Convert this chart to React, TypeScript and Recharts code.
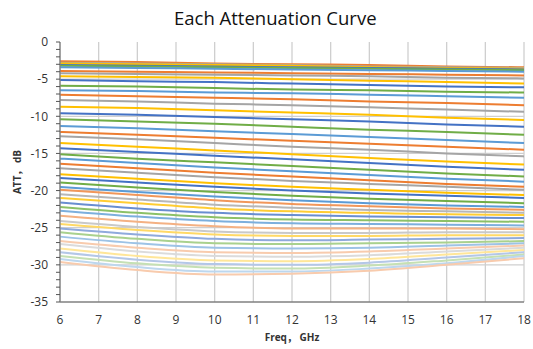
import React from 'react';
import { LineChart, Line, XAxis, YAxis, CartesianGrid, Label } from 'recharts';

const freqs = [6, 8, 10, 12, 14, 16, 18];
const xTicks = [6, 7, 8, 9, 10, 11, 12, 13, 14, 15, 16, 17, 18];
const xMinorTicks = [6, 6.5, 7, 7.5, 8, 8.5, 9, 9.5, 10, 10.5, 11, 11.5, 12, 12.5, 13, 13.5, 14, 14.5, 15, 15.5, 16, 16.5, 17, 17.5, 18];
const yTicks = [-35, -34, -33, -32, -31, -30, -29, -28, -27, -26, -25, -24, -23, -22, -21, -20, -19, -18, -17, -16, -15, -14, -13, -12, -11, -10, -9, -8, -7, -6, -5, -4, -3, -2, -1, 0];
const yGrid = [-30, -25, -20, -15, -10, -5];

const att00 = [-2.6, -2.7, -2.9, -3.0, -3.1, -3.3, -3.4];
const att01 = [-2.8, -2.9, -3.0, -3.1, -3.3, -3.4, -3.5];
const att02 = [-2.9, -3.0, -3.1, -3.2, -3.4, -3.5, -3.6];
const att03 = [-3.1, -3.2, -3.3, -3.4, -3.5, -3.6, -3.7];
const att04 = [-3.2, -3.3, -3.4, -3.5, -3.6, -3.7, -3.8];
const att05 = [-3.4, -3.5, -3.6, -3.7, -3.8, -3.9, -4.0];
const att06 = [-3.9, -4.0, -4.1, -4.2, -4.3, -4.4, -4.5];
const att07 = [-4.2, -4.3, -4.4, -4.5, -4.6, -4.8, -4.9];
const att08 = [-4.6, -4.7, -4.8, -5.0, -5.2, -5.4, -5.6];
const att09 = [-5.1, -5.3, -5.4, -5.6, -5.8, -6.0, -6.1];
const att10 = [-5.9, -6.0, -6.2, -6.4, -6.5, -6.7, -6.8];
const att11 = [-6.5, -6.6, -6.8, -6.9, -7.1, -7.3, -7.5];
const att12 = [-7.1, -7.3, -7.5, -7.7, -8.0, -8.2, -8.5];
const att13 = [-7.8, -8.0, -8.3, -8.5, -8.8, -9.1, -9.4];
const att14 = [-8.7, -8.9, -9.2, -9.5, -9.8, -10.2, -10.5];
const att15 = [-9.6, -9.8, -10.1, -10.4, -10.7, -11.1, -11.4];
const att16 = [-10.4, -10.7, -11.0, -11.4, -11.8, -12.1, -12.5];
const att17 = [-11.3, -11.6, -12.0, -12.4, -12.8, -13.2, -13.6];
const att18 = [-12.1, -12.5, -12.9, -13.3, -13.7, -14.1, -14.5];
const att19 = [-12.7, -13.1, -13.6, -14.1, -14.5, -15.0, -15.4];
const att20 = [-13.6, -14.1, -14.6, -15.1, -15.6, -16.1, -16.5];
const att21 = [-14.3, -14.8, -15.3, -15.8, -16.3, -16.8, -17.2];
const att22 = [-15.1, -15.7, -16.2, -16.7, -17.2, -17.7, -18.1];
const att23 = [-15.7, -16.3, -16.9, -17.4, -17.9, -18.4, -18.8];
const att24 = [-16.4, -17.0, -17.6, -18.1, -18.6, -19.1, -19.5];
const att25 = [-17.0, -17.6, -18.2, -18.7, -19.1, -19.5, -19.9];
const att26 = [-17.8, -18.4, -19.0, -19.5, -19.9, -20.3, -20.6];
const att27 = [-18.3, -18.9, -19.5, -20.0, -20.4, -20.7, -21.0];
const att28 = [-18.9, -19.6, -20.2, -20.7, -21.1, -21.4, -21.7];
const att29 = [-19.5, -20.2, -20.8, -21.3, -21.7, -22.0, -22.2];
const att30 = [-19.9, -20.6, -21.3, -21.8, -22.1, -22.4, -22.6];
const att31 = [-20.5, -21.2, -21.9, -22.3, -22.6, -22.8, -23.0];
const att32 = [-21.0, -21.7, -22.4, -22.8, -23.0, -23.2, -23.3];
const att33 = [-21.6, -22.4, -23.0, -23.3, -23.5, -23.6, -23.7];
const att34 = [-22.2, -23.0, -23.6, -23.9, -24.0, -24.1, -24.2];
const att35 = [-22.7, -23.5, -24.1, -24.4, -24.5, -24.6, -24.7];
const att36 = [-23.4, -24.2, -24.8, -25.1, -25.1, -25.1, -25.2];
const att37 = [-24.1, -24.9, -25.5, -25.7, -25.7, -25.6, -25.6];
const att38 = [-24.5, -25.3, -25.9, -26.1, -26.1, -26.0, -26.0];
const att39 = [-25.1, -25.9, -26.5, -26.7, -26.6, -26.5, -26.4];
const att40 = [-25.6, -26.5, -27.1, -27.2, -27.1, -27.0, -26.8];
const att41 = [-26.2, -27.1, -27.7, -27.8, -27.7, -27.4, -27.1];
const att42 = [-26.8, -27.7, -28.3, -28.4, -28.2, -27.8, -27.4];
const att43 = [-27.2, -28.2, -28.8, -28.9, -28.7, -28.2, -27.7];
const att44 = [-27.8, -28.8, -29.4, -29.5, -29.2, -28.6, -28.0];
const att45 = [-28.3, -29.3, -29.9, -30.0, -29.7, -29.0, -28.3];
const att46 = [-28.8, -29.8, -30.4, -30.5, -30.1, -29.4, -28.6];
const att47 = [-29.2, -30.3, -30.9, -30.9, -30.5, -29.8, -28.8];
const att48 = [-29.6, -30.7, -31.3, -31.2, -30.8, -30.0, -29.1];

const curves = [
  att00, att01, att02, att03, att04, att05, att06, att07, att08, att09,
  att10, att11, att12, att13, att14, att15, att16, att17, att18, att19,
  att20, att21, att22, att23, att24, att25, att26, att27, att28, att29,
  att30, att31, att32, att33, att34, att35, att36, att37, att38, att39,
  att40, att41, att42, att43, att44, att45, att46, att47, att48,
];

const paletteBase = ['#ED7D31', '#A5A5A5', '#FFC000', '#4472C4', '#70AD47', '#5B9BD5'];
const paletteTint1 = ['#F1975A', '#B7B7B7', '#FFCD33', '#698ED0', '#8CC168', '#7CAFDD'];
const paletteTint2 = ['#F4B183', '#C9C9C9', '#FFD966', '#8FAADC', '#A9D18E', '#9DC3E6'];
const paletteTint3 = ['#F8CBAD', '#DBDBDB', '#FFE699', '#B4C7E7', '#C5E0B4', '#BDD7EE'];

const colorFor = (i: number) => {
  const p = i < 30 ? paletteBase : i < 36 ? paletteTint1 : i < 42 ? paletteTint2 : paletteTint3;
  return p[i % 6];
};

const data = freqs.map((f, j) => {
  const row: Record<string, number> = { f };
  curves.forEach((c, i) => {
    row['s' + i] = c[j];
  });
  return row;
});

const FONT = '"Open Sans", "Noto Sans CJK SC", sans-serif';
const AXIS = '#808080';

export default function App() {
  return (
    <div style={{ position: 'absolute', left: 0, top: 0, width: 533, height: 349, background: '#fff' }}>
      <div
        style={{
          position: 'absolute',
          left: 174,
          top: 4,
          width: 200,
          textAlign: 'center',
          fontFamily: FONT,
          fontSize: 18.5,
          lineHeight: '28px',
          color: '#111',
          whiteSpace: 'nowrap',
        }}
      >
        Each Attenuation Curve
      </div>
      <LineChart width={533} height={349} data={data} margin={{ top: 42, right: 9, bottom: 2, left: 0 }}>
        <CartesianGrid
          stroke="#CFCFCF"
          strokeWidth={1.3}
          horizontalValues={yGrid}
          verticalValues={xTicks}
        />
        <XAxis
          dataKey="f"
          type="number"
          domain={[6, 18]}
          ticks={xTicks}
          interval={0}
          height={45}
          tickLine={false}
          tickSize={5}
          tickMargin={8}
          axisLine={{ stroke: AXIS, strokeWidth: 1.3 }}
          tick={{ fontSize: 12, fill: '#333', fontFamily: FONT }}
        >
          <Label
            content={() => (
              <text x={292} y={341} textAnchor="middle" fontSize={10} fontWeight="bold" fill="#333" fontFamily={FONT}>
                Freq， GHz
              </text>
            )}
          />
        </XAxis>
        <XAxis
          xAxisId="top"
          orientation="top"
          dataKey="f"
          type="number"
          domain={[6, 18]}
          ticks={xMinorTicks}
          interval={0}
          height={0}
          mirror
          tickFormatter={() => ''}
          tickSize={4}
          tickLine={{ stroke: '#555' }}
          axisLine={{ stroke: AXIS, strokeWidth: 1.3 }}
        />
        <YAxis
          domain={[-35, 0]}
          ticks={yTicks}
          interval={0}
          width={60}
          tickSize={4}
          tickMargin={8}
          tickFormatter={(v: number) => (v % 5 === 0 ? String(v) : '')}
          tickLine={{ stroke: '#555' }}
          axisLine={{ stroke: AXIS, strokeWidth: 1.3 }}
          tick={{ fontSize: 12, fill: '#333', fontFamily: FONT }}
        >
          <Label
            content={() => (
              <text
                x={21}
                y={172}
                transform="rotate(-90 21 172)"
                textAnchor="middle"
                fontSize={10}
                fontWeight="bold"
                fill="#333"
                fontFamily={FONT}
              >
                ATT， dB
              </text>
            )}
          />
        </YAxis>
        <YAxis
          yAxisId="right"
          orientation="right"
          domain={[-35, 0]}
          width={0}
          tick={false}
          tickLine={false}
          axisLine={{ stroke: AXIS, strokeWidth: 1.3 }}
        />
        {curves.map((_, i) => (
          <Line
            key={i}
            type="monotone"
            dataKey={'s' + i}
            stroke={colorFor(i)}
            strokeWidth={2}
            dot={false}
            activeDot={false}
            isAnimationActive={false}
          />
        ))}
      </LineChart>
    </div>
  );
}
